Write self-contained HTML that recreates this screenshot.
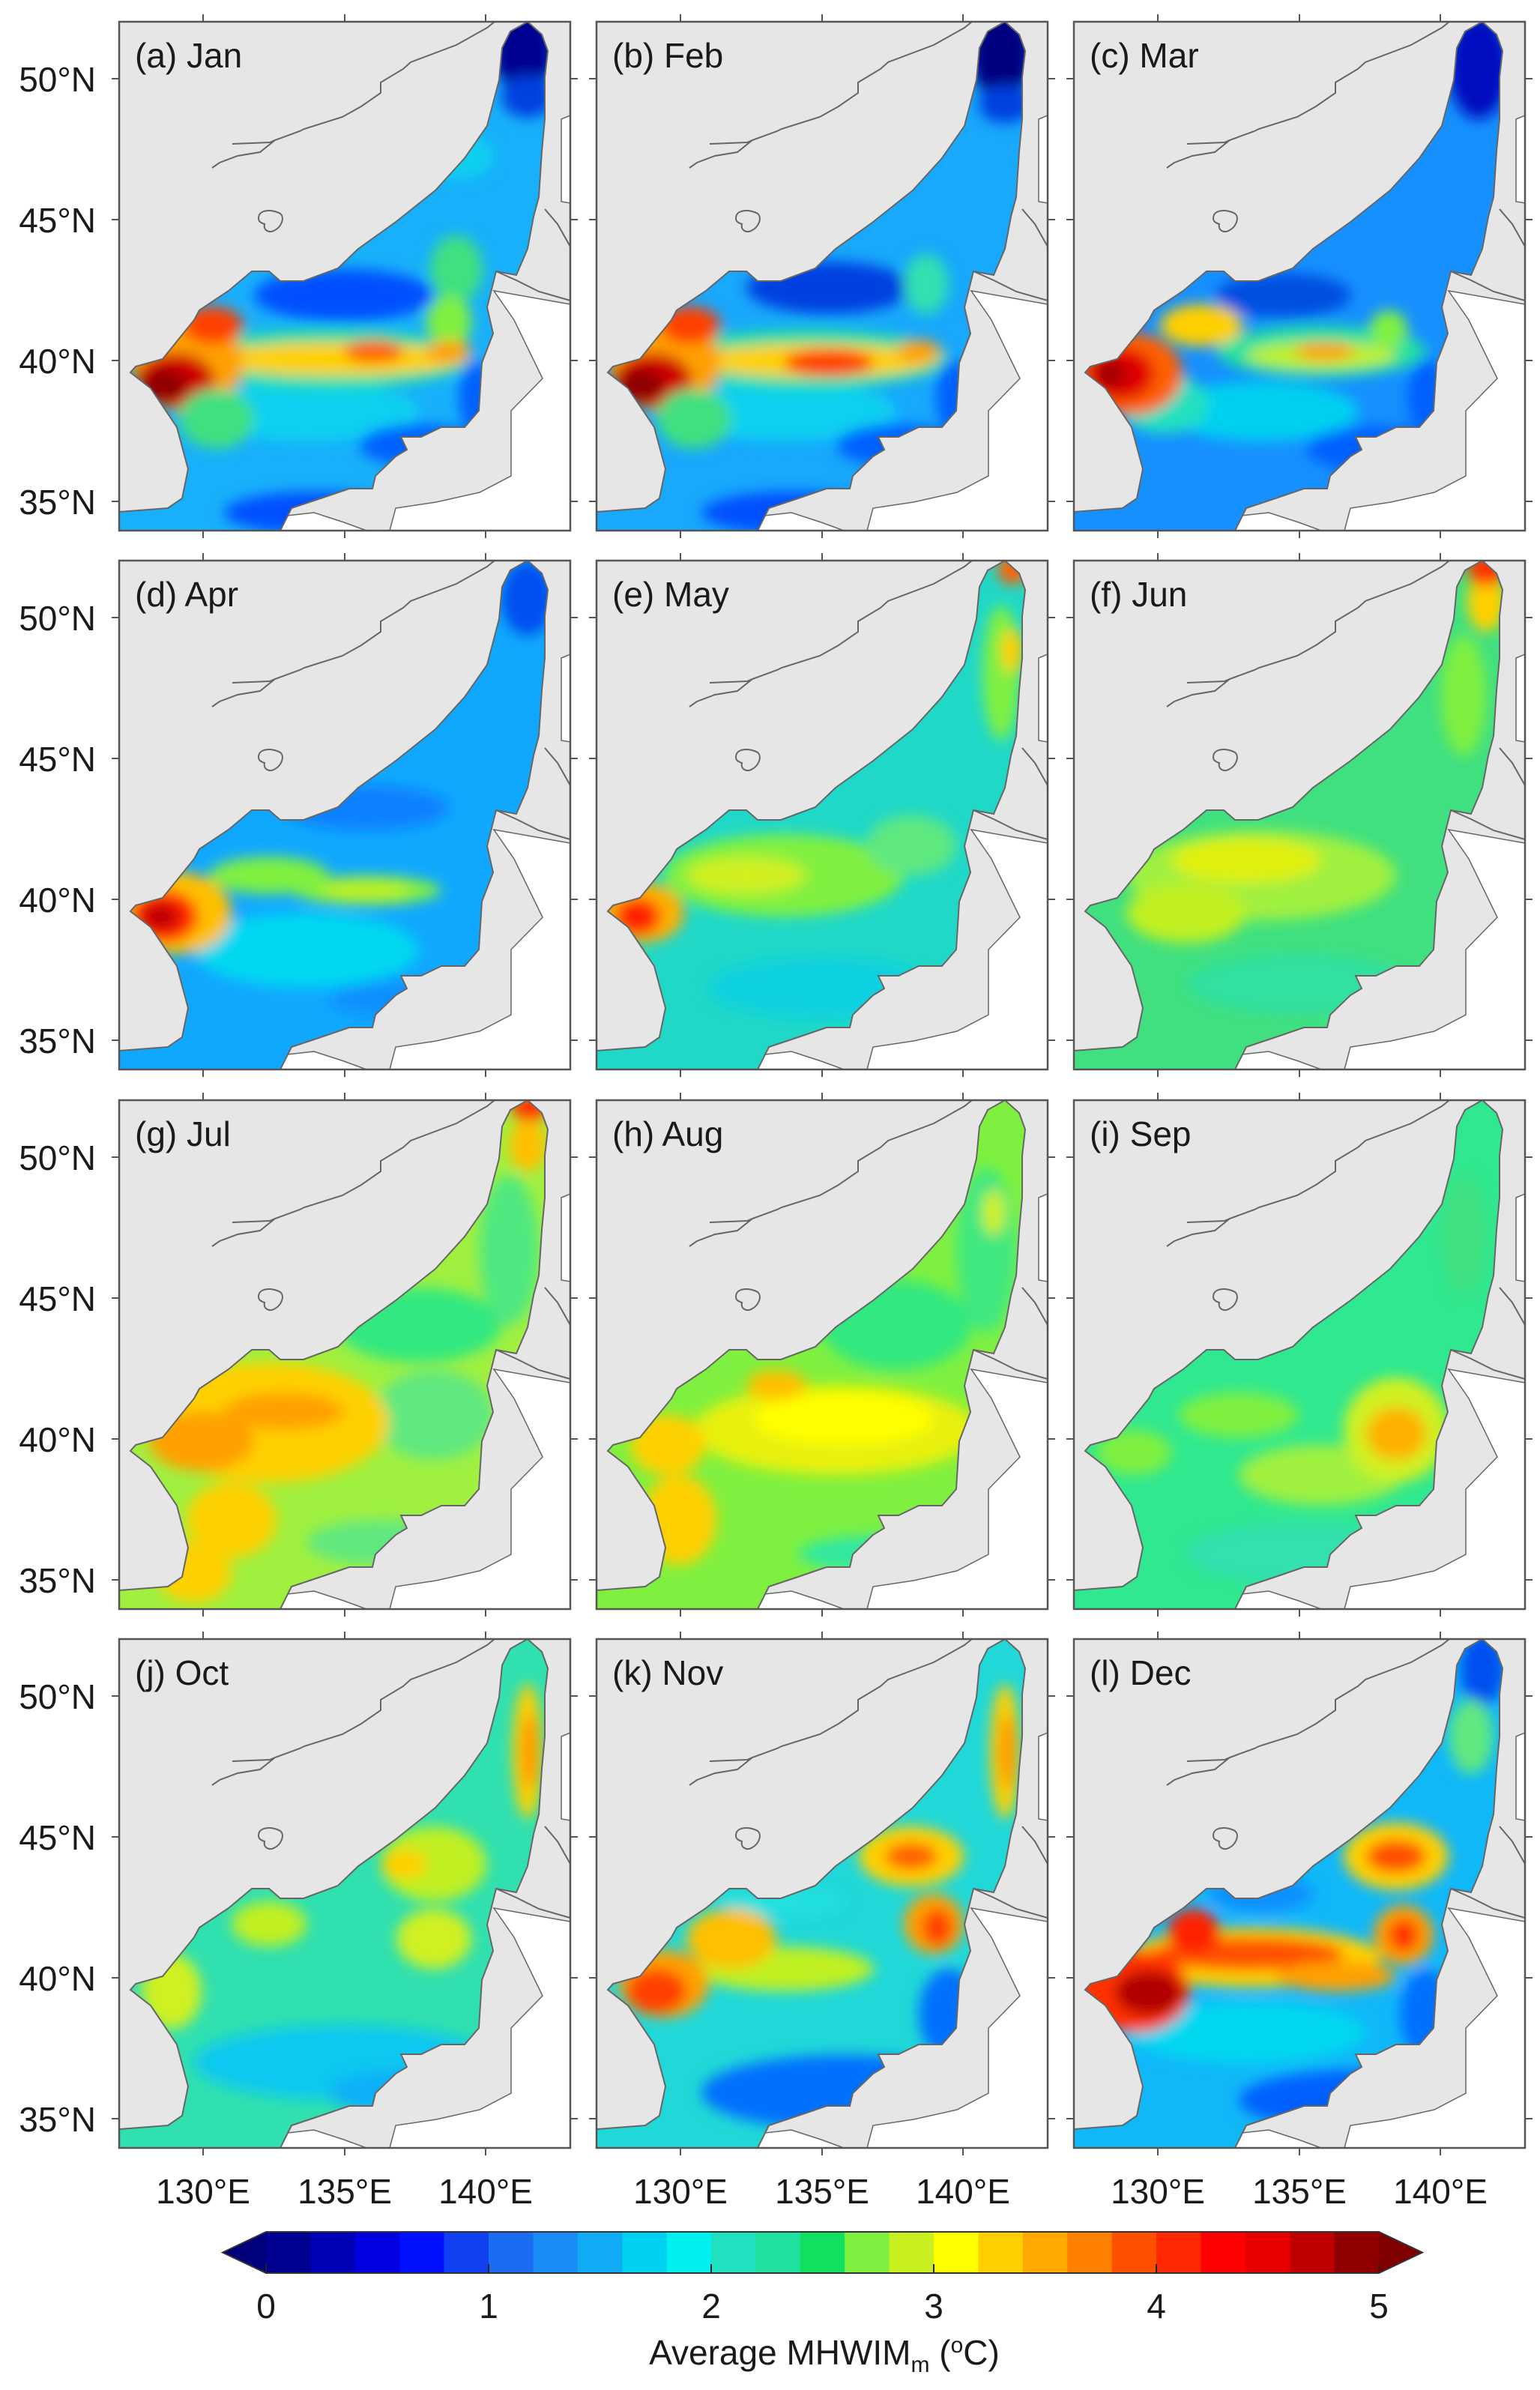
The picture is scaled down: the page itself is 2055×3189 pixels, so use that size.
<!DOCTYPE html>
<html><head><meta charset="utf-8"><style>
html,body{margin:0;padding:0;background:#fff}
svg{display:block}
text{font-family:"Liberation Sans",Arial,sans-serif;fill:#1a1a1a}
</style></head><body>
<svg width="2055" height="3189" viewBox="0 0 2055 3189" xmlns="http://www.w3.org/2000/svg">
<defs>
<clipPath id="sea"><path d="M0,679 L0,654 L65,649 L84,636 L92,597 L77,541 L42,489 L15,468 L22,460 L58,450 L100,398 L107,385 L146,359 L177,333 L200,333 L215,346 L246,346 L292,329 L319,303 L368,268 L422,225 L461,182 L491,139 L507,78 L511,35 L522,13 L545,0 L564,17 L572,39 L568,74 L568,130 L564,173 L560,234 L553,260 L545,303 L530,338 L503,333 L491,381 L499,416 L484,455 L480,519 L461,541 L430,541 L403,554 L376,554 L384,571 L369,580 L342,606 L338,623 L307,623 L269,636 L230,649 L215,679 Z"/></clipPath>
<filter id="bl" x="-50%" y="-50%" width="200%" height="200%"><feGaussianBlur stdDeviation="9"/></filter>
<g id="white" fill="#fff" stroke="#666" stroke-width="1.5">
<path d="M500,359 L602,377 L602,679 L361,679 L369,649 L423,641 L481,628 L523,606 L523,519 L565,476 L527,398 Z"/>
<path d="M590,130 L602,125 L602,242 L590,240 Z"/>
<path d="M200,679 L215,660 L260,655 L300,668 L330,679 Z"/>
</g>
<g id="lines" fill="none" stroke="#666" stroke-width="2">
<path d="M0,654 L65,649 L84,636 L92,597 L77,541 L42,489 L15,468 L22,460 L58,450 L100,398 L107,385 L146,359 L177,333 L200,333 L215,346 L246,346 L292,329 L319,303 L368,268 L422,225 L461,182 L491,139 L507,78 L511,35 L522,13 L545,0"/>
<path d="M545,0 L564,17 L572,39 L568,74 L568,130 L564,173 L560,234 L553,260 L545,303 L530,338 L503,333 L491,381 L499,416 L484,455 L480,519 L461,541 L430,541 L403,554 L376,554 L384,571 L369,580 L342,606 L338,623 L307,623 L269,636 L230,649 L215,679"/>
<path d="M124,195 L134,188 L158,179 L188,174 L208,158 L241,146 L247,143 L298,127 L323,113 L349,95 L349,81 L379,63 L389,54 L450,31 L491,8 L501,0"/>
<path d="M151,163 L201,161 L208,158"/>
<path d="M186,262 C186,250 205,250 215,256 C222,262 215,275 208,278 C200,283 192,278 194,270 C188,268 186,266 186,262Z"/>
<path d="M503,333 L530,345 L560,360 L602,372"/>
<path d="M568,250 L585,270 L602,300"/>
</g>
<g id="frame">
<rect x="0" y="0" width="602" height="679" fill="none" stroke="#555" stroke-width="2.5"/>
<g stroke="#555" stroke-width="2">
<path d="M112,-10V0M301,-10V0M489,-10V0M112,679V689M301,679V689M489,679V689"/>
<path d="M-10,76H0M-10,264H0M-10,452H0M-10,640H0M602,76H612M602,264H612M602,452H612M602,640H612"/>
</g>
</g>
</defs>

<!-- a Jan -->
<g transform="translate(159,29)">
<rect width="602" height="679" fill="#e6e6e6"/><use href="#white"/>
<g clip-path="url(#sea)"><rect width="602" height="679" fill="#18b0fa"/><g filter="url(#bl)">
<ellipse cx="300" cy="365" rx="120" ry="35" fill="#0050ff"/>
<ellipse cx="250" cy="520" rx="150" ry="40" fill="#10d0f0"/>
<ellipse cx="450" cy="180" rx="50" ry="30" fill="#10d0f0"/>
<ellipse cx="540" cy="40" rx="40" ry="55" fill="#000090"/>
<ellipse cx="545" cy="100" rx="35" ry="28" fill="#0040e0"/>
<ellipse cx="450" cy="330" rx="35" ry="45" fill="#40e080"/>
<ellipse cx="440" cy="400" rx="30" ry="35" fill="#80f040"/>
<ellipse cx="280" cy="450" rx="190" ry="40" fill="#20e0a0"/>
<ellipse cx="290" cy="450" rx="170" ry="22" fill="#ffd000"/>
<ellipse cx="340" cy="440" rx="40" ry="15" fill="#ff6000"/>
<ellipse cx="440" cy="440" rx="30" ry="15" fill="#ffa000"/>
<ellipse cx="90" cy="455" rx="75" ry="65" fill="#ffa000"/>
<ellipse cx="75" cy="478" rx="52" ry="36" fill="#d00000"/>
<ellipse cx="60" cy="485" rx="30" ry="22" fill="#900000"/>
<ellipse cx="125" cy="405" rx="40" ry="25" fill="#ff4000"/>
<ellipse cx="130" cy="530" rx="50" ry="40" fill="#40e080"/>
<ellipse cx="400" cy="565" rx="80" ry="28" fill="#0060ff"/>
<ellipse cx="260" cy="655" rx="120" ry="28" fill="#0050ff"/>
<ellipse cx="475" cy="500" rx="22" ry="50" fill="#0060ff"/>
</g></g>
<use href="#lines"/><use href="#frame"/>
<text x="21" y="61" font-size="46">(a) Jan</text>
<text x="-31" y="93" font-size="46" text-anchor="end">50°N</text>
<text x="-31" y="281" font-size="46" text-anchor="end">45°N</text>
<text x="-31" y="469" font-size="46" text-anchor="end">40°N</text>
<text x="-31" y="657" font-size="46" text-anchor="end">35°N</text>
</g>

<!-- b Feb -->
<g transform="translate(796,29)">
<rect width="602" height="679" fill="#e6e6e6"/><use href="#white"/>
<g clip-path="url(#sea)"><rect width="602" height="679" fill="#18a8fc"/><g filter="url(#bl)">
<ellipse cx="310" cy="355" rx="110" ry="35" fill="#0040e0"/>
<ellipse cx="250" cy="520" rx="150" ry="40" fill="#10d0f0"/>
<ellipse cx="540" cy="45" rx="40" ry="60" fill="#000080"/>
<ellipse cx="545" cy="110" rx="35" ry="25" fill="#0040e0"/>
<ellipse cx="440" cy="350" rx="30" ry="40" fill="#30e0b0"/>
<ellipse cx="280" cy="450" rx="190" ry="40" fill="#20e0a0"/>
<ellipse cx="290" cy="452" rx="160" ry="22" fill="#ffd000"/>
<ellipse cx="310" cy="455" rx="60" ry="18" fill="#ff4000"/>
<ellipse cx="430" cy="440" rx="30" ry="15" fill="#ffa000"/>
<ellipse cx="90" cy="455" rx="75" ry="65" fill="#ffa000"/>
<ellipse cx="75" cy="478" rx="52" ry="36" fill="#d00000"/>
<ellipse cx="60" cy="485" rx="30" ry="22" fill="#900000"/>
<ellipse cx="125" cy="405" rx="40" ry="25" fill="#ff4000"/>
<ellipse cx="130" cy="530" rx="50" ry="40" fill="#40e080"/>
<ellipse cx="400" cy="565" rx="80" ry="28" fill="#0060ff"/>
<ellipse cx="260" cy="655" rx="120" ry="28" fill="#0050ff"/>
<ellipse cx="475" cy="500" rx="22" ry="50" fill="#0060ff"/>
</g></g>
<use href="#lines"/><use href="#frame"/>
<text x="21" y="61" font-size="46">(b) Feb</text>
</g>

<!-- c Mar -->
<g transform="translate(1433,29)">
<rect width="602" height="679" fill="#e6e6e6"/><use href="#white"/>
<g clip-path="url(#sea)"><rect width="602" height="679" fill="#1690ff"/><g filter="url(#bl)">
<ellipse cx="540" cy="60" rx="40" ry="70" fill="#0010c0"/>
<ellipse cx="280" cy="365" rx="90" ry="30" fill="#0050e0"/>
<ellipse cx="250" cy="520" rx="130" ry="40" fill="#00d0f0"/>
<ellipse cx="330" cy="440" rx="140" ry="35" fill="#20e0a0"/>
<ellipse cx="330" cy="445" rx="100" ry="18" fill="#c0f020"/>
<ellipse cx="335" cy="440" rx="40" ry="12" fill="#ffa000"/>
<ellipse cx="420" cy="410" rx="25" ry="25" fill="#80f040"/>
<ellipse cx="170" cy="405" rx="55" ry="28" fill="#ffd000"/>
<ellipse cx="120" cy="510" rx="60" ry="40" fill="#20e0c0"/>
<ellipse cx="75" cy="470" rx="70" ry="55" fill="#ff6000"/>
<ellipse cx="62" cy="470" rx="45" ry="35" fill="#e00000"/>
<ellipse cx="50" cy="470" rx="20" ry="18" fill="#a00000"/>
<ellipse cx="400" cy="570" rx="90" ry="30" fill="#0060ff"/>
<ellipse cx="470" cy="500" rx="25" ry="50" fill="#0060ff"/>
</g></g>
<use href="#lines"/><use href="#frame"/>
<text x="21" y="61" font-size="46">(c) Mar</text>
</g>

<!-- d Apr -->
<g transform="translate(159,748)">
<rect width="602" height="679" fill="#e6e6e6"/><use href="#white"/>
<g clip-path="url(#sea)"><rect width="602" height="679" fill="#10a8ff"/><g filter="url(#bl)">
<ellipse cx="545" cy="50" rx="35" ry="50" fill="#0050f0"/>
<ellipse cx="330" cy="330" rx="110" ry="30" fill="#1080ff"/>
<ellipse cx="250" cy="520" rx="150" ry="50" fill="#00d8f0"/>
<ellipse cx="330" cy="440" rx="100" ry="20" fill="#80f040"/>
<ellipse cx="330" cy="440" rx="60" ry="12" fill="#c0f020"/>
<ellipse cx="200" cy="420" rx="80" ry="25" fill="#80f040"/>
<ellipse cx="75" cy="470" rx="75" ry="55" fill="#ffc000"/>
<ellipse cx="60" cy="475" rx="45" ry="35" fill="#ff2000"/>
<ellipse cx="55" cy="475" rx="25" ry="18" fill="#c00000"/>
<ellipse cx="380" cy="585" rx="100" ry="25" fill="#1090ff"/>
</g></g>
<use href="#lines"/><use href="#frame"/>
<text x="21" y="61" font-size="46">(d) Apr</text>
<text x="-31" y="93" font-size="46" text-anchor="end">50°N</text>
<text x="-31" y="281" font-size="46" text-anchor="end">45°N</text>
<text x="-31" y="469" font-size="46" text-anchor="end">40°N</text>
<text x="-31" y="657" font-size="46" text-anchor="end">35°N</text>
</g>

<!-- e May -->
<g transform="translate(796,748)">
<rect width="602" height="679" fill="#e6e6e6"/><use href="#white"/>
<g clip-path="url(#sea)"><rect width="602" height="679" fill="#20d8c8"/><g filter="url(#bl)">
<ellipse cx="540" cy="150" rx="25" ry="90" fill="#80f040"/>
<ellipse cx="555" cy="120" rx="15" ry="30" fill="#ffd000"/>
<ellipse cx="555" cy="12" rx="20" ry="20" fill="#ff6000"/>
<ellipse cx="250" cy="420" rx="160" ry="55" fill="#80f040"/>
<ellipse cx="200" cy="420" rx="80" ry="25" fill="#d0f020"/>
<ellipse cx="420" cy="380" rx="60" ry="40" fill="#60e880"/>
<ellipse cx="62" cy="470" rx="55" ry="40" fill="#ffb000"/>
<ellipse cx="55" cy="475" rx="30" ry="25" fill="#ff2000"/>
<ellipse cx="300" cy="570" rx="150" ry="40" fill="#10d0e0"/>
</g></g>
<use href="#lines"/><use href="#frame"/>
<text x="21" y="61" font-size="46">(e) May</text>
</g>

<!-- f Jun -->
<g transform="translate(1433,748)">
<rect width="602" height="679" fill="#e6e6e6"/><use href="#white"/>
<g clip-path="url(#sea)"><rect width="602" height="679" fill="#40e080"/><g filter="url(#bl)">
<ellipse cx="550" cy="55" rx="25" ry="40" fill="#ffd000"/>
<ellipse cx="550" cy="12" rx="25" ry="22" fill="#ff3000"/>
<ellipse cx="520" cy="180" rx="30" ry="80" fill="#80f040"/>
<ellipse cx="250" cy="420" rx="180" ry="60" fill="#a0f040"/>
<ellipse cx="230" cy="400" rx="100" ry="30" fill="#e0f010"/>
<ellipse cx="150" cy="470" rx="80" ry="40" fill="#c0f020"/>
<ellipse cx="300" cy="565" rx="150" ry="40" fill="#30e0a0"/>
</g></g>
<use href="#lines"/><use href="#frame"/>
<text x="21" y="61" font-size="46">(f) Jun</text>
</g>

<!-- g Jul -->
<g transform="translate(159,1468)">
<rect width="602" height="679" fill="#e6e6e6"/><use href="#white"/>
<g clip-path="url(#sea)"><rect width="602" height="679" fill="#a0f040"/><g filter="url(#bl)">
<ellipse cx="400" cy="300" rx="110" ry="50" fill="#30e880"/>
<ellipse cx="520" cy="200" rx="40" ry="100" fill="#50e880"/>
<ellipse cx="420" cy="420" rx="80" ry="60" fill="#60e880"/>
<ellipse cx="200" cy="430" rx="160" ry="80" fill="#ffd000"/>
<ellipse cx="110" cy="455" rx="70" ry="40" fill="#ffa000"/>
<ellipse cx="220" cy="415" rx="80" ry="25" fill="#ffa000"/>
<ellipse cx="150" cy="560" rx="60" ry="50" fill="#ffd000"/>
<ellipse cx="545" cy="60" rx="25" ry="35" fill="#ffc000"/>
<ellipse cx="548" cy="10" rx="25" ry="18" fill="#ff3000"/>
<ellipse cx="350" cy="590" rx="100" ry="30" fill="#60e880"/>
<ellipse cx="100" cy="630" rx="50" ry="40" fill="#ffd000"/>
</g></g>
<use href="#lines"/><use href="#frame"/>
<text x="21" y="61" font-size="46">(g) Jul</text>
<text x="-31" y="93" font-size="46" text-anchor="end">50°N</text>
<text x="-31" y="281" font-size="46" text-anchor="end">45°N</text>
<text x="-31" y="469" font-size="46" text-anchor="end">40°N</text>
<text x="-31" y="657" font-size="46" text-anchor="end">35°N</text>
</g>

<!-- h Aug -->
<g transform="translate(796,1468)">
<rect width="602" height="679" fill="#e6e6e6"/><use href="#white"/>
<g clip-path="url(#sea)"><rect width="602" height="679" fill="#80f040"/><g filter="url(#bl)">
<ellipse cx="400" cy="300" rx="100" ry="60" fill="#30e880"/>
<ellipse cx="520" cy="200" rx="40" ry="110" fill="#40e880"/>
<ellipse cx="530" cy="150" rx="15" ry="30" fill="#d0f020"/>
<ellipse cx="320" cy="440" rx="190" ry="60" fill="#e8f010"/>
<ellipse cx="330" cy="425" rx="120" ry="35" fill="#ffff00"/>
<ellipse cx="95" cy="460" rx="50" ry="40" fill="#ffd000"/>
<ellipse cx="240" cy="380" rx="40" ry="20" fill="#ffc000"/>
<ellipse cx="110" cy="560" rx="50" ry="60" fill="#ffd000"/>
<ellipse cx="380" cy="605" rx="110" ry="25" fill="#30e8a0"/>
</g></g>
<use href="#lines"/><use href="#frame"/>
<text x="21" y="61" font-size="46">(h) Aug</text>
</g>

<!-- i Sep -->
<g transform="translate(1433,1468)">
<rect width="602" height="679" fill="#e6e6e6"/><use href="#white"/>
<g clip-path="url(#sea)"><rect width="602" height="679" fill="#30e890"/><g filter="url(#bl)">
<ellipse cx="330" cy="500" rx="110" ry="40" fill="#a0f040"/>
<ellipse cx="220" cy="420" rx="80" ry="30" fill="#80f040"/>
<ellipse cx="430" cy="440" rx="70" ry="70" fill="#d0f020"/>
<ellipse cx="430" cy="445" rx="40" ry="35" fill="#ffb000"/>
<ellipse cx="520" cy="180" rx="30" ry="80" fill="#40e080"/>
<ellipse cx="300" cy="605" rx="150" ry="40" fill="#30e0b0"/>
<ellipse cx="80" cy="470" rx="50" ry="30" fill="#80f040"/>
</g></g>
<use href="#lines"/><use href="#frame"/>
<text x="21" y="61" font-size="46">(i) Sep</text>
</g>

<!-- j Oct -->
<g transform="translate(159,2187)">
<rect width="602" height="679" fill="#e6e6e6"/><use href="#white"/>
<g clip-path="url(#sea)"><rect width="602" height="679" fill="#30e0b0"/><g filter="url(#bl)">
<ellipse cx="300" cy="565" rx="200" ry="50" fill="#10c8f0"/>
<ellipse cx="380" cy="605" rx="100" ry="30" fill="#10b0f8"/>
<ellipse cx="545" cy="150" rx="20" ry="90" fill="#ffd000"/>
<ellipse cx="548" cy="150" rx="10" ry="50" fill="#ff9000"/>
<ellipse cx="420" cy="300" rx="70" ry="50" fill="#c0f020"/>
<ellipse cx="380" cy="300" rx="30" ry="20" fill="#ffd000"/>
<ellipse cx="420" cy="400" rx="50" ry="40" fill="#d0f020"/>
<ellipse cx="200" cy="380" rx="50" ry="30" fill="#c0f020"/>
<ellipse cx="70" cy="470" rx="40" ry="50" fill="#d0f020"/>
</g></g>
<use href="#lines"/><use href="#frame"/>
<text x="21" y="61" font-size="46">(j) Oct</text>
<text x="-31" y="93" font-size="46" text-anchor="end">50°N</text>
<text x="-31" y="281" font-size="46" text-anchor="end">45°N</text>
<text x="-31" y="469" font-size="46" text-anchor="end">40°N</text>
<text x="-31" y="657" font-size="46" text-anchor="end">35°N</text>
<text x="112" y="753" font-size="46" text-anchor="middle">130°E</text>
<text x="301" y="753" font-size="46" text-anchor="middle">135°E</text>
<text x="489" y="753" font-size="46" text-anchor="middle">140°E</text>
</g>

<!-- k Nov -->
<g transform="translate(796,2187)">
<rect width="602" height="679" fill="#e6e6e6"/><use href="#white"/>
<g clip-path="url(#sea)"><rect width="602" height="679" fill="#20d8d8"/><g filter="url(#bl)">
<ellipse cx="330" cy="605" rx="190" ry="50" fill="#0070ff"/>
<ellipse cx="470" cy="500" rx="40" ry="60" fill="#0070ff"/>
<ellipse cx="250" cy="350" rx="80" ry="20" fill="#20e0e0"/>
<ellipse cx="545" cy="150" rx="20" ry="90" fill="#ffd000"/>
<ellipse cx="548" cy="150" rx="10" ry="50" fill="#ff9000"/>
<ellipse cx="420" cy="290" rx="70" ry="40" fill="#ffd000"/>
<ellipse cx="420" cy="290" rx="35" ry="18" fill="#ff6000"/>
<ellipse cx="450" cy="380" rx="40" ry="40" fill="#ffa000"/>
<ellipse cx="455" cy="385" rx="20" ry="25" fill="#ff4000"/>
<ellipse cx="250" cy="440" rx="120" ry="30" fill="#c0f020"/>
<ellipse cx="180" cy="400" rx="60" ry="40" fill="#ffc000"/>
<ellipse cx="90" cy="460" rx="60" ry="45" fill="#ffa000"/>
<ellipse cx="80" cy="470" rx="40" ry="30" fill="#ff4000"/>
</g></g>
<use href="#lines"/><use href="#frame"/>
<text x="21" y="61" font-size="46">(k) Nov</text>
<text x="112" y="753" font-size="46" text-anchor="middle">130°E</text>
<text x="301" y="753" font-size="46" text-anchor="middle">135°E</text>
<text x="489" y="753" font-size="46" text-anchor="middle">140°E</text>
</g>

<!-- l Dec -->
<g transform="translate(1433,2187)">
<rect width="602" height="679" fill="#e6e6e6"/><use href="#white"/>
<g clip-path="url(#sea)"><rect width="602" height="679" fill="#10b8f8"/><g filter="url(#bl)">
<ellipse cx="230" cy="525" rx="160" ry="40" fill="#00d8f0"/>
<ellipse cx="380" cy="615" rx="160" ry="40" fill="#0060ff"/>
<ellipse cx="470" cy="500" rx="35" ry="60" fill="#0070ff"/>
<ellipse cx="250" cy="340" rx="70" ry="25" fill="#1090ff"/>
<ellipse cx="545" cy="40" rx="30" ry="50" fill="#0050f0"/>
<ellipse cx="530" cy="130" rx="30" ry="50" fill="#60e880"/>
<ellipse cx="430" cy="290" rx="70" ry="45" fill="#ffd000"/>
<ellipse cx="430" cy="290" rx="40" ry="22" fill="#ff5000"/>
<ellipse cx="440" cy="395" rx="40" ry="40" fill="#ffa000"/>
<ellipse cx="440" cy="395" rx="20" ry="22" fill="#ff3000"/>
<ellipse cx="240" cy="425" rx="170" ry="40" fill="#ffd000"/>
<ellipse cx="230" cy="420" rx="130" ry="22" fill="#ff5000"/>
<ellipse cx="350" cy="450" rx="80" ry="20" fill="#ffa000"/>
<ellipse cx="80" cy="470" rx="75" ry="55" fill="#ff3000"/>
<ellipse cx="100" cy="472" rx="45" ry="30" fill="#b00000"/>
<ellipse cx="160" cy="390" rx="35" ry="30" fill="#ff2000"/>
</g></g>
<use href="#lines"/><use href="#frame"/>
<text x="21" y="61" font-size="46">(l) Dec</text>
<text x="112" y="753" font-size="46" text-anchor="middle">130°E</text>
<text x="301" y="753" font-size="46" text-anchor="middle">135°E</text>
<text x="489" y="753" font-size="46" text-anchor="middle">140°E</text>
</g>

<!-- Colorbar -->
<g>
<polygon points="355,2978 297,3005.5 355,3033" fill="#00007a"/>
<polygon points="1840,2978 1898,3005.5 1840,3033" fill="#800000"/>
<g>
<rect x="355" y="2978" width="60" height="55" fill="#000090"/>
<rect x="414.4" y="2978" width="60" height="55" fill="#0000b8"/>
<rect x="473.8" y="2978" width="60" height="55" fill="#0000e0"/>
<rect x="533.2" y="2978" width="60" height="55" fill="#0010ff"/>
<rect x="592.6" y="2978" width="60" height="55" fill="#1040f0"/>
<rect x="652" y="2978" width="60" height="55" fill="#1a6cf0"/>
<rect x="711.4" y="2978" width="60" height="55" fill="#1a8cf5"/>
<rect x="770.8" y="2978" width="60" height="55" fill="#10aaf5"/>
<rect x="830.2" y="2978" width="60" height="55" fill="#00d0f0"/>
<rect x="889.6" y="2978" width="60" height="55" fill="#00f0f0"/>
<rect x="949" y="2978" width="60" height="55" fill="#20e0c0"/>
<rect x="1008.4" y="2978" width="60" height="55" fill="#20e0a0"/>
<rect x="1067.8" y="2978" width="60" height="55" fill="#10e060"/>
<rect x="1127.2" y="2978" width="60" height="55" fill="#80f040"/>
<rect x="1186.6" y="2978" width="60" height="55" fill="#c8f020"/>
<rect x="1246" y="2978" width="60" height="55" fill="#ffff00"/>
<rect x="1305.4" y="2978" width="60" height="55" fill="#ffd000"/>
<rect x="1364.8" y="2978" width="60" height="55" fill="#ffa800"/>
<rect x="1424.2" y="2978" width="60" height="55" fill="#ff8000"/>
<rect x="1483.6" y="2978" width="60" height="55" fill="#ff5000"/>
<rect x="1543" y="2978" width="60" height="55" fill="#ff2800"/>
<rect x="1602.4" y="2978" width="60" height="55" fill="#ff0000"/>
<rect x="1661.8" y="2978" width="60" height="55" fill="#e80000"/>
<rect x="1721.2" y="2978" width="60" height="55" fill="#c00000"/>
<rect x="1780.6" y="2978" width="59.4" height="55" fill="#900000"/>
</g>
<polygon points="297,3005.5 355,2978 1840,2978 1898,3005.5 1840,3033 355,3033" fill="none" stroke="#333" stroke-width="2"/>
<path d="M355,3033V3021M652,3033V3021M949,3033V3021M1246,3033V3021M1543,3033V3021M1840,3033V3021" stroke="#222" stroke-width="2"/>
<g font-size="46" text-anchor="middle">
<text x="355" y="3093">0</text>
<text x="652" y="3093">1</text>
<text x="949" y="3093">2</text>
<text x="1246" y="3093">3</text>
<text x="1543" y="3093">4</text>
<text x="1840" y="3093">5</text>
</g>
<text x="1100" y="3155" font-size="46" text-anchor="middle">Average MHWIM<tspan font-size="30" dy="10">m</tspan><tspan dy="-10"> (</tspan><tspan font-size="30" dy="-16">o</tspan><tspan dy="16">C)</tspan></text>
</g>
</svg>
</body></html>
